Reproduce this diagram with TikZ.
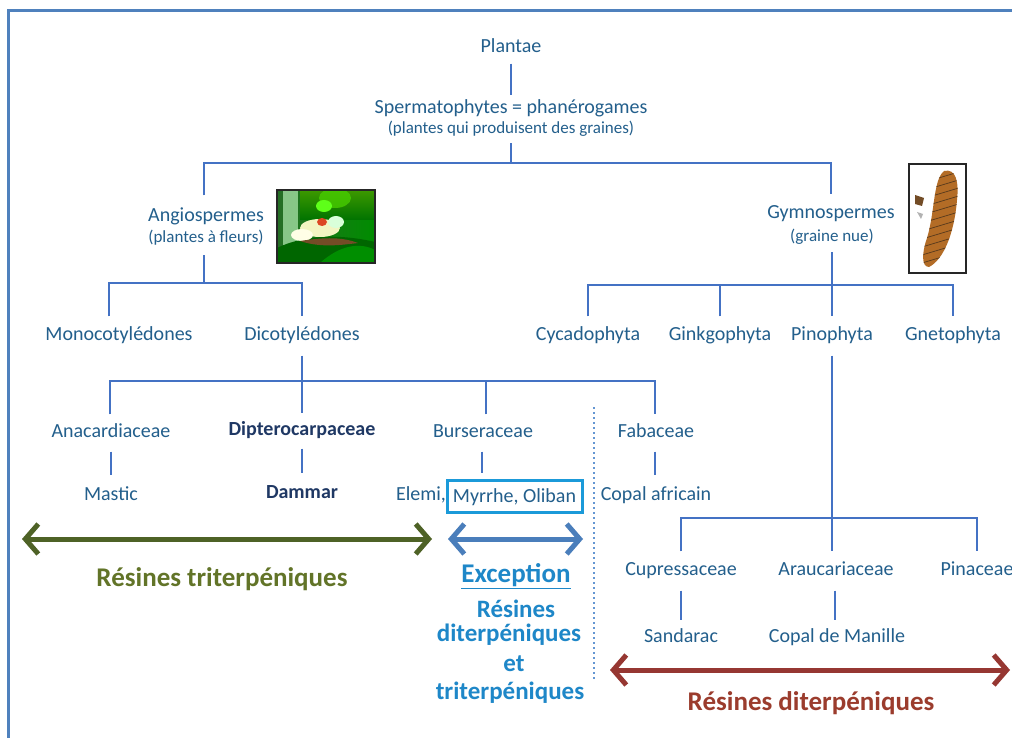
\documentclass[tikz,border=0pt]{standalone}
\usepackage{fontspec}
\setmainfont{Carlito}
\usetikzlibrary{arrows.meta}
\definecolor{txt}{RGB}{35,95,140}
\definecolor{txtdark}{RGB}{31,56,100}
\definecolor{linkc}{RGB}{68,114,196}
\definecolor{framec}{RGB}{79,129,189}
\definecolor{greenarr}{RGB}{78,98,38}
\definecolor{greentxt}{RGB}{98,116,40}
\definecolor{bluearr}{RGB}{74,126,187}
\definecolor{bluetxt}{RGB}{30,135,200}
\definecolor{boxc}{RGB}{27,154,217}
\definecolor{redarr}{RGB}{150,55,50}
\definecolor{redtxt}{RGB}{155,60,45}
\definecolor{dotc}{RGB}{100,150,210}
\tikzset{
  lbl/.style={font=\fontsize{20}{22}\selectfont, text=txt, inner xsep=2pt, inner ysep=8pt, text height=14pt, text depth=5pt, yshift=-3pt},
  sublbl/.style={font=\fontsize{17}{19}\selectfont, text=txt, inner xsep=2pt, inner ysep=6pt, text height=12pt, text depth=4pt, yshift=-2pt},
  boldlbl/.style={lbl, font=\bfseries\fontsize{20}{22}\selectfont, text=txtdark},
  biglbl/.style={font=\bfseries\fontsize{27}{30}\selectfont, inner sep=2pt, yshift=-1pt},
  midlbl/.style={font=\bfseries\fontsize{25}{28}\selectfont, text=bluetxt, inner sep=2pt},
  link/.style={draw=linkc, line width=1.5pt},
  bigarrow/.style={line width=5pt, {Straight Barb[length=13pt,width=30pt]}-{Straight Barb[length=13pt,width=30pt]}},
  photo/.style={draw=black!85, line width=2pt}
}
\begin{document}
\begin{tikzpicture}[x=1pt,y=-1pt]
\clip (0,0) rectangle (1012,738);
\fill[white] (0,0) rectangle (1012,738);
% frame
\draw[framec, line width=3pt] (8,745) -- (8,11) -- (1020,11);

% nodes
\node[lbl, inner ysep=6pt] (plantae) at (511,45) {Plantae};
\node[lbl, inner ysep=4pt] (sperma) at (511,106) {Spermatophytes = phanérogames};
\node[sublbl, inner ysep=5pt] (spsub) at (511,128) {(plantes qui produisent des graines)};
\node[lbl, inner ysep=12pt] (angio) at (206,214) {Angiospermes};
\node[sublbl, inner ysep=8pt] (angsub) at (206,237) {(plantes à fleurs)};
\node[lbl, inner ysep=10pt] (gymno) at (831,211) {Gymnospermes};
\node[sublbl, inner ysep=6pt] (gymsub) at (832,236) {(graine nue)};

\node[lbl, inner ysep=10pt] (mono) at (119,333) {Monocotylédones};
\node[lbl, inner ysep=10pt] (dico) at (302,333) {Dicotylédones};
\node[lbl, inner ysep=10pt] (cyca) at (588,333) {Cycadophyta};
\node[lbl, inner ysep=10pt] (ginkgo) at (720,333) {Ginkgophyta};
\node[lbl, inner ysep=10pt] (pino) at (832,333) {Pinophyta};
\node[lbl, inner ysep=10pt] (gneto) at (953,333) {Gnetophyta};

\node[lbl, inner ysep=9pt] (anaca) at (111,430) {Anacardiaceae};
\node[boldlbl, inner ysep=8pt] (diptero) at (302,428) {Dipterocarpaceae};
\node[lbl, inner ysep=9pt] (burse) at (483,430) {Burseraceae};
\node[lbl, inner ysep=9pt] (faba) at (656,430) {Fabaceae};

\node[lbl, inner ysep=11pt] (mastic) at (111,493) {Mastic};
\node[boldlbl, inner ysep=11pt] (dammar) at (302,491) {Dammar};
\node[lbl, inner ysep=11pt, inner xsep=0pt] (elemi) at (421,493) {Elemi,};
\node[lbl, draw=boxc, line width=3pt, minimum width=135pt, minimum height=32pt, inner ysep=2pt, yshift=3pt] (myrrhe) at (514.5,496) {\raisebox{-2pt}{Myrrhe, Oliban}};
\node[lbl, inner ysep=11pt] (copafr) at (656,493) {Copal africain};

\node[lbl, inner ysep=10pt] (cupre) at (681,568) {Cupressaceae};
\node[lbl, inner ysep=10pt] (arau) at (836,568) {Araucariaceae};
\node[lbl, inner ysep=10pt] (pina) at (977,568) {Pinaceae};
\node[lbl, inner ysep=8pt] (sanda) at (681,635) {Sandarac};
\node[lbl, inner ysep=8pt] (copman) at (837,635) {Copal de Manille};

% bus coordinates
\coordinate (b1) at (511,163);
\coordinate (b2) at (204,283);
\coordinate (b3) at (302,381);
\coordinate (b4) at (832,285);
\coordinate (b5) at (832,518);
\coordinate (bursetop) at (486,381);
\coordinate (bursebot) at (482,473);
\coordinate (arauline) at (835,590);

% connectors
\draw[link] (plantae) -- (sperma);
\draw[link] (spsub) -- (b1);
\draw[link] (angio.north -| 204,0) |- (b1) -| (gymno.north);
\draw[link] (angsub.south -| b2) -- (b2);
\draw[link] (mono.north -| 109,0) |- (b2) -| (dico.north);
\draw[link] (dico) -- (diptero);
\draw[link] (anaca.north -| 110,0) |- (b3) -| (faba.north -| 655,0);
\draw[link] (burse.north -| bursetop) -- (bursetop);
\draw[link] (gymsub) -- (pino);
\draw[link] (cyca.north) |- (b4) -| (gneto.north);
\draw[link] (ginkgo.north) -- (ginkgo.north |- b4);
\draw[link] (pino.south) -- (pino.south |- arau.north);
\draw[link] (cupre.north) |- (b5) -| (pina.north);
\draw[link] (anaca) -- (mastic);
\draw[link] (diptero) -- (dammar);
\draw[link] (burse.south -| bursebot) -- (bursebot);
\draw[link] (faba.south -| 655,0) -- (copafr.north -| 655,0);
\draw[link] (cupre) -- (sanda);
\draw[link] (arau.south -| arauline) -- (copman.north -| arauline);

% dotted separator
\coordinate (dtop) at (594,407);
\coordinate (dbot) at (594,680);
\draw[dotc, line width=1.3pt, dash pattern=on 2pt off 3pt] (dtop) -- (dbot);

% big arrows
\coordinate (ga1) at (22,539);
\coordinate (ga2) at (432,539);
\coordinate (ba1) at (448,539);
\coordinate (ba2) at (583,539);
\coordinate (ra1) at (610,670);
\coordinate (ra2) at (1010,670);
\draw[bigarrow, greenarr] (ga1) -- (ga2);
\draw[bigarrow, bluearr] (ba1) -- (ba2);
\draw[bigarrow, redarr] (ra1) -- (ra2);

\node[biglbl, text=greentxt] (tri) at (222,578) {Résines triterpéniques};
\node[biglbl, text=bluetxt] (exc) at (516,575) {\underline{Exception}};
\node[midlbl] (exc1) at (516,609) {Résines};
\node[midlbl] (exc2) at (509,635) {diterpéniques};
\node[midlbl] (exc3) at (514,664) {et};
\node[midlbl] (exc4) at (510,693) {triterpéniques};
\node[biglbl, text=redtxt] (di) at (811,702) {Résines diterpéniques};

% photo 1 (flower)
\begin{scope}
\clip (277,190) rectangle (375,263);
\shade[left color=green!40!black!70!gray, right color=green!55!black] (277,190) rectangle (375,263);
\shade[top color=green!60!yellow!60!black, bottom color=green!45!black] (300,190) rectangle (375,220);
\fill[gray!55!green!50, opacity=0.8] (283,190) rectangle (298,245);
\fill[green!65!yellow!80!black, opacity=0.8] (335,198) ellipse (16pt and 10pt);
\fill[green!40!black] (277,248) .. controls (310,232) and (350,236) .. (375,242) -- (375,263) -- (277,263) -- cycle;
\fill[green!60!black, opacity=0.8] (320,263) .. controls (340,245) and (360,242) .. (375,250) -- (375,263) -- cycle;
\fill[yellow!20!white, opacity=0.95] (320,228) ellipse (20pt and 9pt);
\fill[white!90!yellow] (302,235) ellipse (11pt and 6pt);
\fill[white!85!green] (336,222) ellipse (8pt and 6pt);
\fill[red!45!brown] (322,222) ellipse (5pt and 4pt);
\fill[green!70!yellow!90!white] (324,206) ellipse (8pt and 6pt);
\fill[brown!60!black] (300,241) .. controls (320,238) and (340,236) .. (358,243) .. controls (335,246) and (318,247) .. (300,241) -- cycle;
\end{scope}
\draw[photo] (277,190) rectangle (375,263);

% photo 2 (cone)
\fill[white] (909,164) rectangle (966,273);
\begin{scope}
\path[clip] (944,171) .. controls (956,168) and (959,182) .. (957,200) .. controls (954,235) and (943,260) .. (929,267) .. controls (921,267) and (922,252) .. (927,238) .. controls (935,212) and (933,180) .. (944,171) -- cycle;
\fill[brown!70!orange!85!black] (909,164) rectangle (966,273);
\foreach \yy in {178,186,...,266} {
  \draw[brown!45!black, line width=0.7pt] (922,\yy+5) -- (962,\yy-7);
}
\end{scope}
\fill[brown!60!black] (915,195) -- (924,198) -- (922,206) -- (915,204) -- cycle;
\fill[gray!60] (917,212) -- (923,214) -- (921,219) -- cycle;
\draw[photo] (909,164) rectangle (966,273);
\end{tikzpicture}
\end{document}
